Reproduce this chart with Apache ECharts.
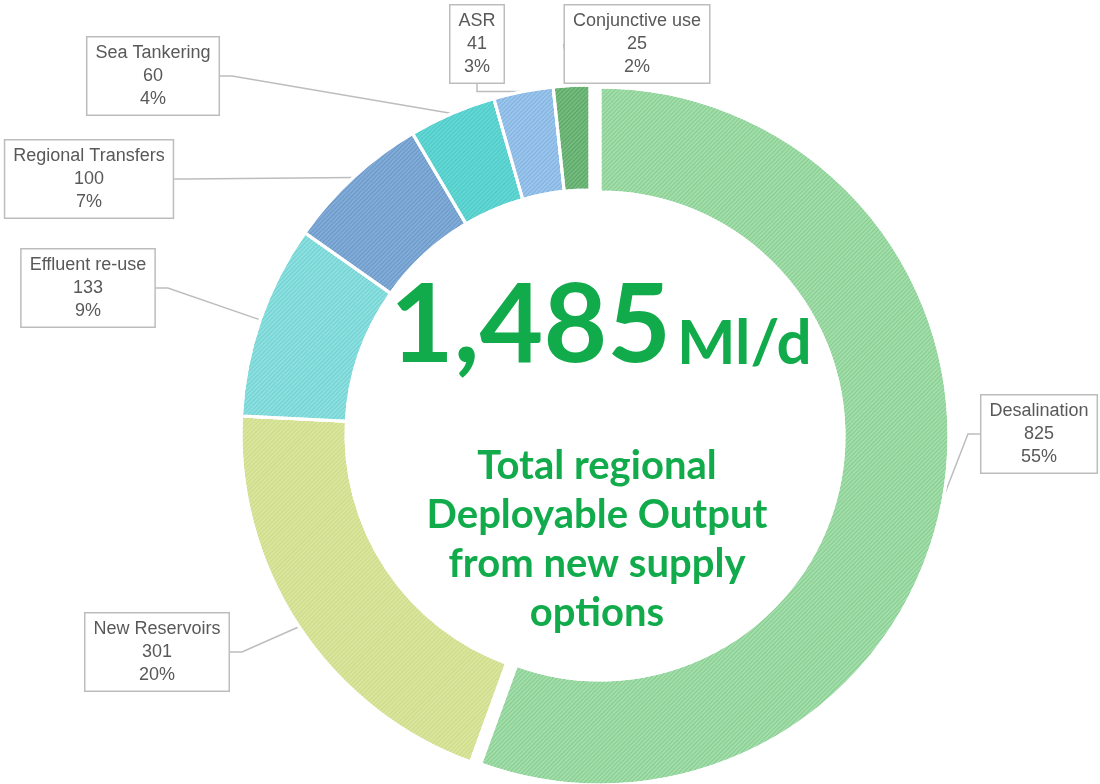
<!DOCTYPE html>
<html>
<head>
<meta charset="utf-8">
<title>Deployable Output from new supply options</title>
<style>
  html, body { margin: 0; padding: 0; background: #ffffff; }
  #main { width: 1100px; height: 784px; }
</style>
<script src="https://cdn.jsdelivr.net/npm/echarts@6/dist/echarts.min.js"></script>
</head>
<body>
<div id="main"></div>
<script>
// data
var categories = ['Desalination', 'New Reservoirs', 'Effluent re-use', 'Regional Transfers', 'Sea Tankering', 'ASR', 'Conjunctive use'];
var values = [825, 301, 133, 100, 60, 41, 25];
var unitText = 'Ml/d';
var captionLines = ['Total regional', 'Deployable Output', 'from new supply', 'options'];

// styling
var fills = ['#a2dea9', '#dae69e', '#8ce0df', '#82acd8', '#62d8d5', '#9ac5ec', '#74bb7e'];
var hatches = ['rgba(70,160,85,0.3)', 'rgba(170,190,80,0.3)', 'rgba(50,170,175,0.3)', 'rgba(50,100,160,0.3)', 'rgba(30,160,160,0.3)', 'rgba(70,130,190,0.3)', 'rgba(40,120,55,0.35)'];
// label box centres, in the order of categories
var labelSpots = [[1039, 434], [157, 652], [88, 288], [89, 179], [153, 76], [477, 44], [637, 44]];
var green = '#12ab4c';
var explodedIndex = 0;

var total = values.reduce(function(a, b) { return a + b; }, 0);
var totalText = total.toLocaleString('en-US');

// same values in both rings, each ring only paints its own slices
function buildData(keep) {
	return categories.map(function(name, i) {
		var on = keep(i);
		return {
			name: name,
			value: values[i],
			label: { show: on },
			labelLine: { show: on },
			itemStyle: on ? {
				color: fills[i],
				decal: {
					symbol: 'rect',
					symbolSize: 1,
					dashArrayX: [1, 0],
					dashArrayY: [1, 2],
					rotation: -Math.PI / 4,
					color: hatches[i]
				}
			} : {
				color: 'rgba(0,0,0,0)',
				borderWidth: 0
			}
		};
	});
}

function ring(name, center, keep) {
	return {
		name: name,
		type: 'pie',
		center: center,
		radius: [244, 349],
		startAngle: 90,
		clockwise: true,
		avoidLabelOverlap: false,
		percentPrecision: 0,
		silent: true,
		itemStyle: {
			borderColor: '#ffffff',
			borderWidth: 3
		},
		emphasis: {
			disabled: true
		},
		label: {
			position: 'outside',
			formatter: '{b}\n{c}\n{d}%',
			color: '#595959',
			fontFamily: 'Liberation Sans',
			fontSize: 18,
			lineHeight: 23,
			backgroundColor: '#ffffff',
			borderColor: '#bdbdbd',
			borderWidth: 1.5,
			padding: [4, 8, 4, 8],
			align: 'center'
		},
		labelLine: {
			length: 10,
			length2: 12,
			lineStyle: {
				color: '#bdbdbd',
				width: 1.5
			}
		},
		labelLayout: function(params) {
			var spot = labelSpots[params.dataIndex];
			return {
				x: spot[0],
				y: spot[1],
				align: 'center',
				verticalAlign: 'middle'
			};
		},
		data: buildData(keep)
	};
}

var myChart = echarts.init(document.getElementById('main'));
myChart.setOption({
	animation: false,
	graphic: [
		{
			type: 'text',
			x: 671,
			y: 327,
			style: {
				text: totalText,
				font: 'bold 110px Lato',
				fill: green,
				align: 'right',
				verticalAlign: 'middle'
			}
		},
		{
			type: 'text',
			x: 677,
			y: 344,
			style: {
				text: unitText,
				font: 'bold 62px Lato',
				fill: green,
				align: 'left',
				verticalAlign: 'middle'
			}
		},
		{
			type: 'text',
			x: 597,
			y: 540,
			style: {
				text: captionLines.join('\n'),
				font: 'bold 40px Lato',
				lineHeight: 49,
				fill: green,
				align: 'center',
				verticalAlign: 'middle'
			}
		}
	],
	series: [
		ring('Desalination (pulled out)', [600, 436], function(i) { return i === explodedIndex; }),
		ring('Other supply options', [590, 434], function(i) { return i !== explodedIndex; })
	]
});
</script>
</body>
</html>
